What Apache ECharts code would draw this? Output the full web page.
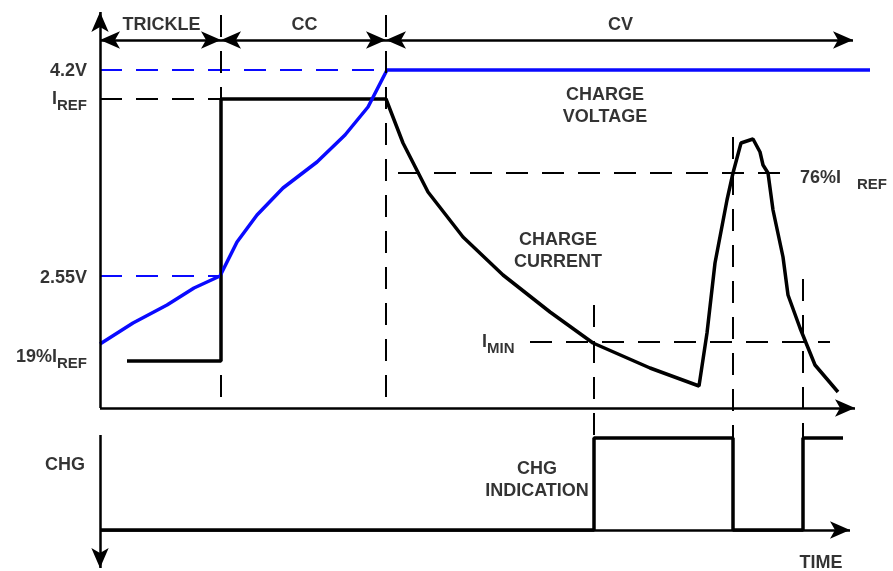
<!DOCTYPE html>
<html>
<head>
<meta charset="utf-8">
<script src="https://cdn.jsdelivr.net/npm/echarts@6/dist/echarts.min.js"></script>
<style>
  html, body { margin: 0; background: #fff; }
  #chart { width: 893px; height: 571px; }
</style>
</head>
<body>
<div id="chart"></div>
<script>
// time t = 0 at the vertical axis, level = 0 at the upper time axis (CHG panel sits below, negative levels)
const current = [[27, 47], [121, 47], [121, 309], [286, 309], [303, 265], [328, 216], [363, 171], [403, 133],
  [450, 96], [493, 65], [550, 40], [599, 22], [607, 75], [615, 145], [627, 208], [633, 235], [641, 265],
  [653, 269], [660, 256], [663, 243], [668, 235], [673, 198], [683, 151], [688, 113], [700, 80], [715, 43], [738, 16]]
const voltage = [[0, 64], [33, 85], [67, 103], [94, 120], [120, 132], [137, 166], [157, 193], [183, 220],
  [217, 246], [245, 273], [268, 301], [287, 338], [770, 338]]
const chgPin = [[0, -122], [494, -122], [494, -30], [633, -30], [633, -122], [703, -122], [703, -30], [743, -30]]

// phase arrows: name, start, end
const phases = [['TRICKLE', 0, 121], ['CC', 121, 286], ['CV', 286, 753]]
const phaseLevel = 368
// dashed horizontal guides: from t, to t, level
const voltGuides = [[0, 287, 338], [0, 120, 132]]
const currGuides = [[0, 121, 309], [298, 687, 235], [430, 730, 66]]
// dashed vertical markers: t, top level, bottom level
const markers = [[121, 393, 0], [286, 393, 0], [494, 103, -30], [633, 271, -30], [703, 129, -30]]
// axes: [from, to] with arrow at "to"
const axes = [[[0, 0], [0, 396]], [[0, 0], [755, 0]], [[0, -122], [750, -122]], [[0, -27], [0, -160]]]

// text: t, level, text, align
const labels = [
  [-13, 337, '4.2V', 'right'],
  [-13, 309, '{n|I}{s|REF}', 'right'],
  [-13, 130, '2.55V', 'right'],
  [-13, 51, '{n|19%I}{s|REF}', 'right'],
  [700, 230, '{n|76%I}{g|REF}', 'left'],
  [382, 66, '{n|I}{s|MIN}', 'left'],
  [505, 302, 'CHARGE\nVOLTAGE', 'center'],
  [458, 157, 'CHARGE\nCURRENT', 'center'],
  [-35, -57, 'CHG', 'center'],
  [437, -72, 'CHG\nINDICATION', 'center'],
  [721, -155, 'TIME', 'center']
]

const BLUE = '#0a0aff'
const font = { fontFamily: 'Liberation Sans', fontWeight: 'bold', fontSize: 18, color: '#000' }

const dashed = (color) => ({ color: color, width: 2, type: [22, 14] })

const guideLines = []
voltGuides.forEach(g => guideLines.push([{ coord: [g[0], g[2]], lineStyle: dashed(BLUE) }, { coord: [g[1], g[2]] }]))
currGuides.forEach(g => guideLines.push([{ coord: [g[0], g[2]], lineStyle: dashed('#000') }, { coord: [g[1], g[2]] }]))
markers.forEach(m => guideLines.push([{ coord: [m[0], m[1]], lineStyle: dashed('#000') }, { coord: [m[0], m[2]] }]))

const arrowLines = []
axes.forEach(a => arrowLines.push([{ coord: a[0], symbol: 'none' }, { coord: a[1], symbol: 'arrow' }]))
phases.forEach(p => arrowLines.push([{ coord: [p[1], phaseLevel], symbol: 'arrow' }, { coord: [p[2], phaseLevel], symbol: 'arrow' }]))

const textPoints = labels.map(l => ({
  value: [l[0], l[1]],
  label: { formatter: l[2], align: l[3] }
}))
phases.forEach(p => textPoints.push({
  value: [(p[1] + p[2]) / 2 + 1, 383],
  label: { formatter: p[0], align: 'center' }
}))

const option = {
  animation: false,
  grid: { left: 0, right: 0, top: 0, bottom: 0 },
  xAxis: { type: 'value', min: -100, max: 793, show: false },
  yAxis: { type: 'value', min: -163, max: 408, show: false },
  series: [
    {
      type: 'line', data: [], silent: true,
      markLine: {
        silent: true, animation: false, symbol: 'none',
        label: { show: false },
        data: guideLines
      }
    },
    {
      type: 'line', data: [], silent: true,
      markLine: {
        silent: true, animation: false, symbolSize: [13, 20],
        label: { show: false },
        lineStyle: { color: '#000', width: 2.5, type: 'solid' },
        itemStyle: { color: '#000' },
        data: arrowLines
      }
    },
    {
      name: 'CHARGE CURRENT', type: 'line', data: current, showSymbol: false, silent: true,
      lineStyle: { color: '#000', width: 3.5 }
    },
    {
      name: 'CHARGE VOLTAGE', type: 'line', data: voltage, showSymbol: false, silent: true,
      lineStyle: { color: BLUE, width: 3.5 }
    },
    {
      name: 'CHG', type: 'line', data: chgPin, showSymbol: false, silent: true,
      lineStyle: { color: '#000', width: 3.5 }
    },
    {
      type: 'scatter', data: textPoints, symbolSize: 0, silent: true,
      label: {
        show: true, position: 'inside', verticalAlign: 'middle',
        ...font, lineHeight: 22,
        rich: {
          n: { ...font, lineHeight: 18, verticalAlign: 'top' },
          s: { ...font, fontSize: 15, lineHeight: 15, verticalAlign: 'top', padding: [8, 0, 0, 0] },
          g: { ...font, fontSize: 15, lineHeight: 15, verticalAlign: 'top', padding: [8, 0, 0, 16] }
        }
      }
    }
  ]
}

const chart = echarts.init(document.getElementById('chart'))
chart.setOption(option)
</script>
</body>
</html>
